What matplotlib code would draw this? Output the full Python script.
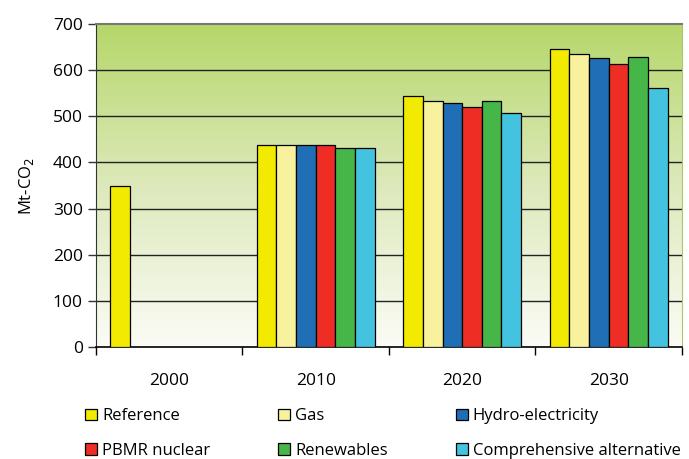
import numpy as np
import matplotlib
matplotlib.use("Agg")
import matplotlib.pyplot as plt
from matplotlib.colors import LinearSegmentedColormap

plt.rcParams['font.family'] = ['Open Sans', 'DejaVu Sans']

# data (Mt-CO2)
years = ['2000', '2010', '2020', '2030']
scenarios = ['Reference', 'Gas', 'Hydro-electricity',
             'PBMR nuclear', 'Renewables', 'Comprehensive alternative']
reference = [349, 438, 544, 646]
gas = [0, 438, 533, 635]
hydro = [0, 438, 530, 626]
pbmr = [0, 438, 520, 613]
renewables = [0, 431, 533, 628]
comprehensive = [0, 431, 507, 562]
colors = ['#f2ea00', '#f8f29e', '#1f6eb6', '#ee2e24', '#47b649', '#43c3df']

series = [reference, gas, hydro, pbmr, renewables, comprehensive]

fig = plt.figure(figsize=(6.89, 4.59), dpi=100)
ax = fig.add_axes([0.1393, 0.244, 0.8505, 0.7035])

# green-to-white gradient background
cmap = LinearSegmentedColormap.from_list('bg', ['#fbfcf6', '#dde9bb', '#b6d76a'])
grad = np.linspace(0, 1, 256).reshape(-1, 1)
ax.imshow(grad, cmap=cmap, origin='lower', aspect='auto',
          extent=[-0.5, 3.5, 0, 700], zorder=0)

x = np.arange(len(years))
width = 0.134
offsets = (np.arange(6) - 2.5) * width
for i, (vals, name) in enumerate(zip(series, scenarios)):
    vals = np.array(vals, dtype=float)
    mask = vals > 0
    ax.bar(x[mask] + offsets[i], vals[mask], width=width, color=colors[i],
           edgecolor='black', linewidth=0.9, zorder=3, label=name)

ax.set_xlim(-0.5, 3.5)
ax.set_ylim(0, 700)
ax.set_yticks(range(0, 701, 100))
for y in range(100, 700, 100):
    ax.axhline(y, color='#222222', linewidth=1.0, zorder=1)

ax.set_xticks(x)
ax.set_xticklabels(years, fontsize=12.5)
ax.tick_params(axis='x', length=0, pad=19)
ax.set_xticks(np.arange(-0.5, 4, 1), minor=True)
ax.tick_params(axis='x', which='minor', length=6, width=1, color='black')
ax.tick_params(axis='y', labelsize=12.5, length=6, width=1, color='#333333')

ax.spines['top'].set_color('#777777')
ax.spines['top'].set_linewidth(1.5)
ax.spines['right'].set_color('#a8c870')
ax.spines['left'].set_color('#333333')
ax.spines['bottom'].set_color('black')
ax.spines['bottom'].set_linewidth(1.2)

ax.set_ylabel('Mt-CO$_2$', fontsize=12, labelpad=12)

# legend laid out row by row like the original
handles, labels = ax.get_legend_handles_labels()
order = [0, 3, 1, 4, 2, 5]
leg = fig.legend([handles[i] for i in order], [labels[i] for i in order],
                 loc='lower left', bbox_to_anchor=(0.102, -0.032),
                 ncol=3, frameon=False, fontsize=12, handlelength=0.7,
                 handleheight=0.7, handletextpad=0.3, columnspacing=4.1,
                 labelspacing=1.1)

fig.savefig('out.png', dpi=100)
